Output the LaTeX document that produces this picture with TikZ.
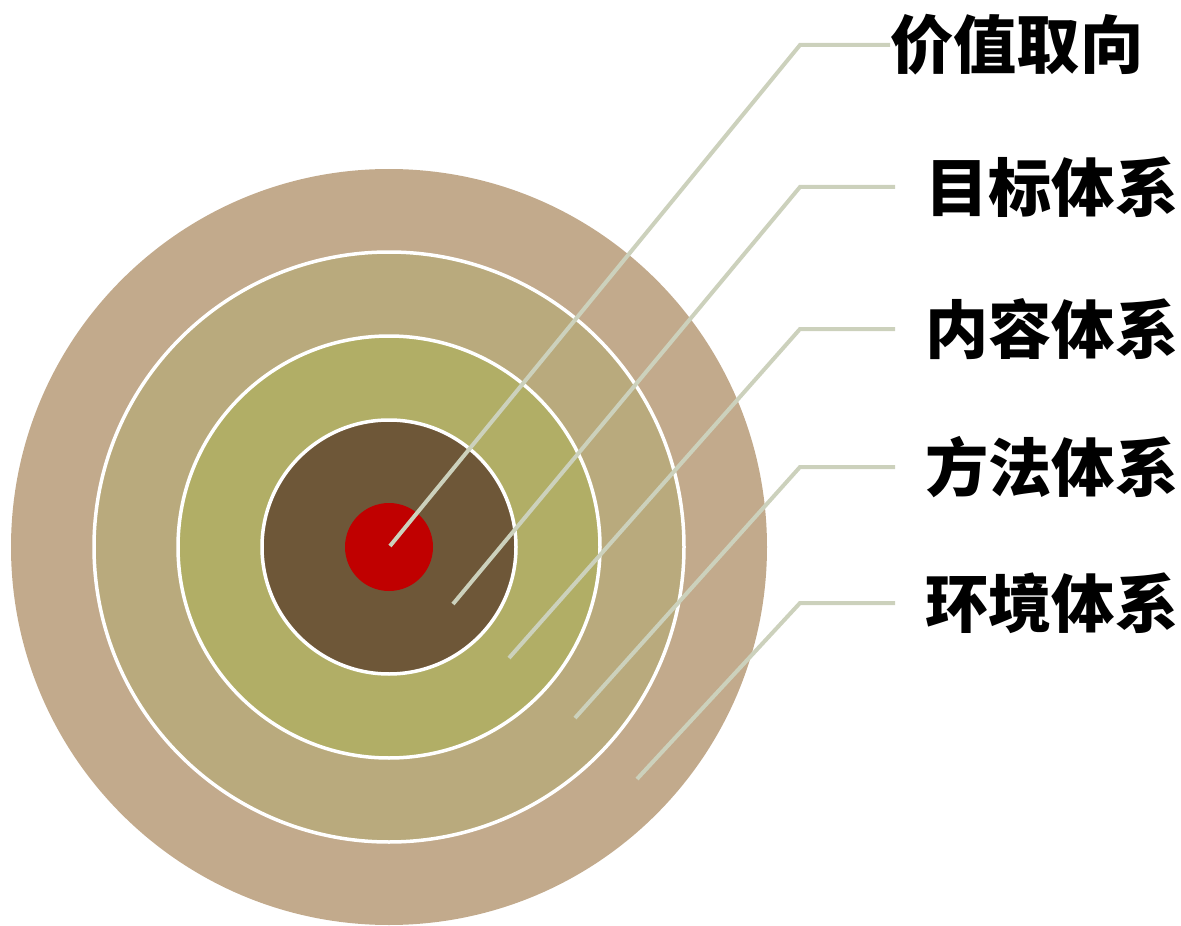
\documentclass[tikz,border=0pt]{standalone}
\usepackage{fontspec}
\newfontfamily\cjk{Noto Sans CJK SC}
\definecolor{ringA}{RGB}{194,170,140}
\definecolor{ringB}{RGB}{185,170,125}
\definecolor{ringC}{RGB}{177,174,102}
\definecolor{ringD}{RGB}{110,87,56}
\definecolor{core}{RGB}{192,0,0}
\definecolor{leader}{RGB}{204,209,188}
\begin{document}
\begin{tikzpicture} [
                x=0.02cm, y=-0.02cm,
                ring/.style={draw=white,line width=0.07cm},
                lead/.style = {draw=leader,line width=0.08cm},
                tag/.style = {anchor=west,inner ysep=0pt,inner xsep=0.6cm,font=\cjk\bfseries\fontsize{36}{36}\selectfont},
            ]
            \useasboundingbox (0,0) rectangle (1181,926);
            \fill[ringA] (389,547) circle (378);
            \foreach \r/\col in {
                    295/ringB, 211/ringC, 127/ringD}
                \filldraw[ring,fill=\col] (389,547) circle (\r);
            \fill[core] (389,547) circle (44);
            % leader lines and labels
            \node[tag,inner xsep=0pt,xshift=-0.06cm] (t1) at (893,45) {价值取向};
            \foreach \y/\name/\txt in {
                    187/t2/目标体系, 329/t3/内容体系, 467/t4/方法体系, 603/t5/环境体系}
                \node[tag] (\name) at (895,\y) {\txt};
            \foreach \x/\y/\name in {
                    390/546/s1, 453/604/s2, 509/658/s3, 575/718/s4, 637/779/s5}
                \coordinate (\name) at (\x,\y);
            \foreach \y/\name in {
                    45/b1, 187/b2, 329/b3, 467/b4, 603/b5}
                \coordinate (\name) at (800,\y);
            \foreach \i in {1,...,5}
                \path[lead] (s\i) -- (b\i) -- (t\i.west);
        \end{tikzpicture}
\end{document}
